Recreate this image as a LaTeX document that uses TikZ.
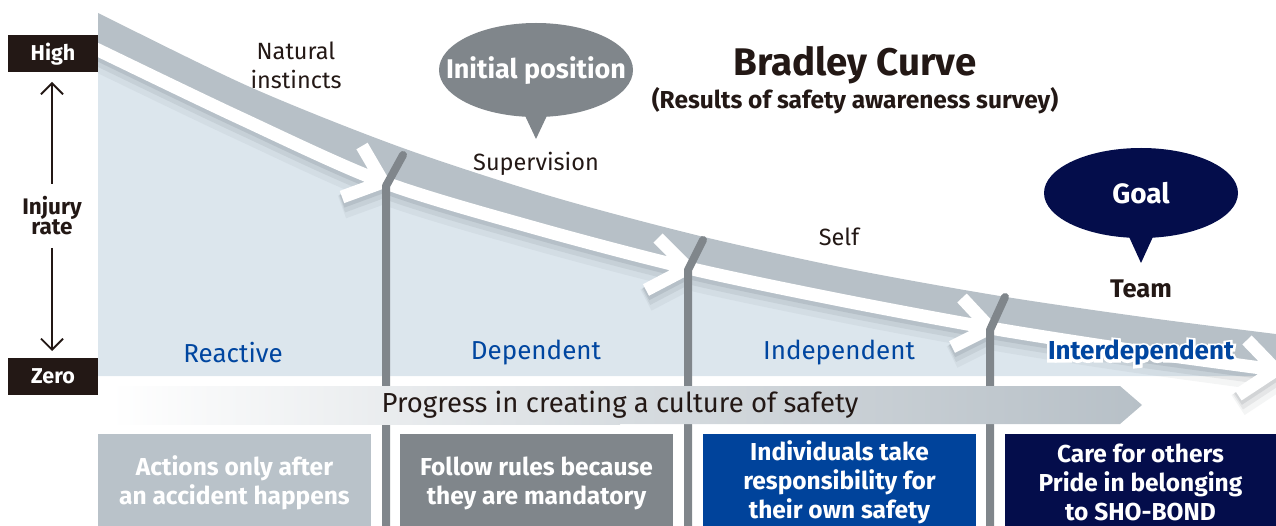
\documentclass[tikz,border=0pt]{standalone}
\usepackage{fontspec}
\setmainfont{Fira Sans}
\newfontfamily\halofont[FakeBold=20]{Fira Sans Bold}
\usetikzlibrary{arrows.meta}
\definecolor{ink}{HTML}{231815}
\definecolor{lblue}{HTML}{DCE6ED}
\definecolor{band}{HTML}{B7C0C7}
\definecolor{post}{HTML}{80868B}
\definecolor{txtblue}{HTML}{0046A0}
\definecolor{boxblue}{HTML}{00439B}
\definecolor{navy}{HTML}{040D4B}
\definecolor{boxgray}{HTML}{B9C2C9}
\definecolor{shadowc}{HTML}{4A545C}
\newcommand{\stripepath}{plot[smooth] coordinates {(90,46) (98,50) (240,118) (383,182) (535,228) (688,268) (840,300) (990,328) (1130,350) (1276,370)}
  (362,146) -- (383,182) -- (342,197)
  (658,238) -- (688,268) -- (646,290)
  (962,298) -- (990,328) -- (952,347)
  (1247,340) -- (1276,370) -- (1238,395)}
\tikzset{
  axisbox/.style={fill=ink, text=white, font=\bfseries\fontsize{21.5}{22}\selectfont, minimum width=90pt, minimum height=37pt, inner sep=0pt},
  axisarrow/.style={draw=ink, line width=1.8pt, -{Straight Barb[length=11pt,width=22pt,line width=1.8pt]}},
  postline/.style={draw=post, line width=8pt, line cap=round, line join=round},
  stagelabel/.style={text=txtblue, font=\fontsize{26}{28}\selectfont},
  interlabel/.style={text=txtblue, font=\bfseries\fontsize{26}{28}\selectfont},
  curvelabel/.style={text=ink, font=\fontsize{23.5}{29}\selectfont, align=center},
  boxtext/.style={text=white, font=\bfseries\fontsize{24.5}{29}\selectfont, align=center},
  callouttext/.style={text=white, font=\bfseries\fontsize{27}{28}\selectfont},
}
\begin{document}
\begin{tikzpicture}[x=1pt,y=-1pt]
\useasboundingbox (0,0) rectangle (1276,526);
\clip (0,0) rectangle (1276,526);
% light blue area
\begin{scope}
\clip (98,0) rectangle (1276,526);
\fill[lblue] plot[smooth] coordinates {(90,46) (98,50) (240,118) (383,182) (535,228) (688,268) (840,300) (990,328) (1130,350) (1276,370) (1300,373)} -- (1300,376) -- (90,376) -- cycle;
% gray band
\fill[band] plot[smooth] coordinates {(90,9) (98,13) (250,87) (400,147) (550,196) (700,236) (850,269) (1000,296) (1150,318) (1300,337)}
  -- (1300,373) -- plot[smooth] coordinates {(1276,370) (1130,350) (990,328) (840,300) (688,268) (535,228) (383,182) (240,118) (98,50) (90,46)} -- cycle;
% shadow under stripe
\begin{scope}
\clip plot[smooth] coordinates {(90,46) (98,50) (240,118) (383,182) (535,228) (688,268) (840,300) (990,328) (1130,350) (1276,370) (1300,373)} -- (1300,430) -- (90,430) -- cycle;
\begin{scope}[yshift=-10pt]
\draw[shadowc, opacity=0.06, line width=24pt, line join=miter] \stripepath;
\end{scope}
\begin{scope}[yshift=-7pt]
\draw[shadowc, opacity=0.09, line width=18pt, line join=miter] \stripepath;
\end{scope}
\begin{scope}[yshift=-4pt]
\draw[shadowc, opacity=0.12, line width=14pt, line join=miter] \stripepath;
\end{scope}
\end{scope}
% white stripe and chevrons
\draw[white, line width=13pt, line join=miter] \stripepath;
\end{scope}
% posts
\draw[postline] (386,540) -- (386,186) -- (403,155);
\draw[postline] (688,540) -- (688,270) -- (703,240);
\draw[postline] (990,540) -- (990,330) -- (1005,297);
% labels on curve
\node[curvelabel] (nat) at (296,65) {Natural\\instincts};
\node[curvelabel] (sup) at (536,164) {Supervision};
\node[curvelabel] (self) at (839,237) {Self};
\node[curvelabel, font=\bfseries\fontsize{25.5}{26}\selectfont] (team) at (1141,289) {Team};
% stage labels
\node[stagelabel] (reac) at (233,353) {Reactive};
\node[stagelabel] (dep) at (536,353) {Dependent};
\node[stagelabel] (indep) at (839,353) {Independent};
\node[text=white, font=\halofont\fontsize{26}{28}\selectfont] (halo) at (1141,353) {Interdependent};
\node[interlabel] (inter) at (1141,353) {Interdependent};
% progress band
\shade[left color=white, right color=band!55!white] (110,386) rectangle (620,424);
\shade[left color=band!55!white, right color=band] (619,386) -- (1120,386) -- (1142,405) -- (1120,424) -- (619,424) -- cycle;
\node[text=ink, font=\fontsize{27.5}{28}\selectfont] (prog) at (620,405) {Progress in creating a culture of safety};
% bottom boxes
\fill[boxgray] (98,434) rectangle (371,530);
\fill[post] (400,434) rectangle (673,530);
\fill[boxblue] (703,434) rectangle (976,530);
\fill[navy] (1005,434) rectangle (1276,530);
\node[boxtext] (b1) at (234.5,483) {Actions only after\\an accident happens};
\node[boxtext] (b2) at (536.5,483) {Follow rules because\\they are mandatory};
\node[boxtext] (b3) at (839.5,482) {Individuals take\\responsibility for\\their own safety};
\node[boxtext] (b4) at (1140.5,482) {Care for others\\Pride in belonging\\to SHO-BOND};
% left axis
\node[axisbox] (high) at (53,54) {High};
\node[axisbox] (zero) at (53,376) {Zero};
\node[text=ink, font=\bfseries\fontsize{22.5}{20}\selectfont, align=center] (inj) at (52,216) {Injury\\rate};
\draw[axisarrow] (52,184) -- (52,82);
\draw[axisarrow] (52,248) -- (52,351);
% callouts
\fill[post] (536,70) ellipse [x radius=97, y radius=47];
\fill[post] (520,105) -- (552,105) -- (536,139) -- cycle;
\node[callouttext] (init) at (536,71) {Initial position};
\fill[navy] (1141,193) ellipse [x radius=97, y radius=45];
\fill[navy] (1125,228) -- (1157,228) -- (1141,263) -- cycle;
\node[callouttext, font=\bfseries\fontsize{28}{28}\selectfont] (goal) at (1141,193) {Goal};
% title
\node[text=ink, font=\bfseries\fontsize{38.5}{40}\selectfont] (title) at (855,65) {Bradley Curve};
\node[text=ink, font=\bfseries\fontsize{24.5}{26}\selectfont] (sub) at (855,101) {(Results of safety awareness survey)};
\end{tikzpicture}
\end{document}
